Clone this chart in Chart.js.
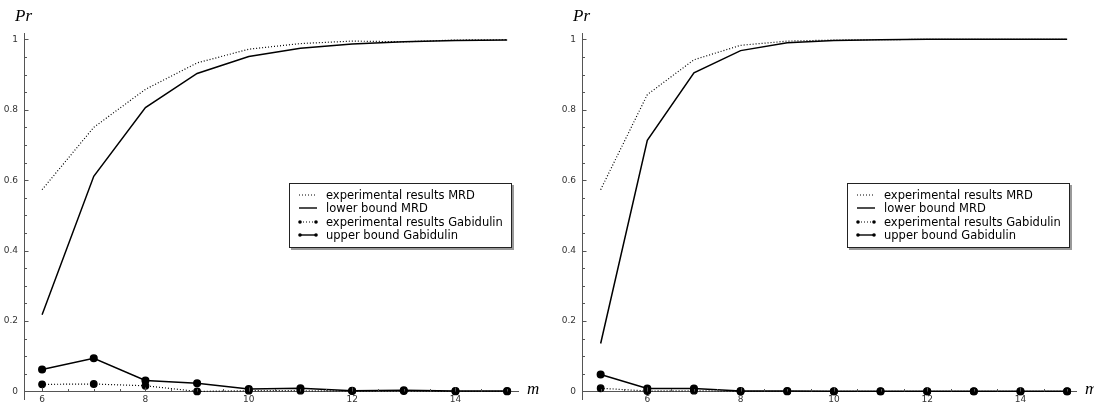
<!DOCTYPE html>
<html>
<head>
<meta charset="utf-8">
<script src="https://cdn.jsdelivr.net/npm/chart.js@4.4.0/dist/chart.umd.min.js"></script>
<style>
    html, body { margin: 0; padding: 0; background: #fff; overflow: hidden; }
    .row { display: flex; flex-wrap: nowrap; width: 1116px; }
    .panel { position: relative; width: 558px; height: 405px; flex: none; }
    .legend {
        position: absolute; left: 289px; top: 183px; width: 223px; height: 65px;
        border: 1px solid #222; background: #fff; box-shadow: 2px 2px 0 #999;
        font-family: "DejaVu Sans", sans-serif; font-size: 11.5px; color: #000;
        padding-top: 5px; box-sizing: border-box;
    }
    .legend div { height: 13.3px; line-height: 13.3px; white-space: nowrap; }
    .legend svg { width: 20px; height: 10px; margin-left: 8px; margin-right: 8px; vertical-align: -1px; }
</style>
</head>
<body>
<div class="row">
    <div class="panel">
        <canvas id="leftChart" width="558" height="405"></canvas>
        <div class="legend" id="leftLegend"></div>
    </div>
    <div class="panel">
        <canvas id="rightChart" width="558" height="405"></canvas>
        <div class="legend" id="rightLegend"></div>
    </div>
</div>
<script>
// data
const leftM = [6, 7, 8, 9, 10, 11, 12, 13, 14, 15];
const leftExpMRD = [0.573, 0.750, 0.858, 0.933, 0.972, 0.988, 0.995, 0.993, 0.998, 0.999];
const leftLowerMRD = [0.218, 0.611, 0.806, 0.903, 0.951, 0.975, 0.987, 0.993, 0.997, 0.998];
const leftExpGab = [0.020, 0.021, 0.016, 0.000, 0.002, 0.002, 0.001, 0.001, 0.000, 0.000];
const leftUpperGab = [0.062, 0.094, 0.031, 0.023, 0.007, 0.009, 0.002, 0.003, 0.001, 0.001];

const rightM = [5, 6, 7, 8, 9, 10, 11, 12, 13, 14, 15];
const rightExpMRD = [0.573, 0.843, 0.942, 0.983, 0.995, 0.998, 0.999, 1.0, 1.0, 1.0, 1.0];
const rightLowerMRD = [0.136, 0.713, 0.905, 0.968, 0.990, 0.997, 0.999, 1.0, 1.0, 1.0, 1.0];
const rightExpGab = [0.009, 0.001, 0.002, 0, 0, 0, 0, 0, 0, 0, 0];
const rightUpperGab = [0.048, 0.008, 0.008, 0.001, 0.001, 0.0005, 0.0005, 0.0005, 0.0005, 0.0005, 0.0005];

const seriesNames = ['experimental results MRD', 'lower bound MRD', 'experimental results Gabidulin', 'upper bound Gabidulin'];
const yLabels = [0, 0.2, 0.4, 0.6, 0.8, 1];
const xLabels = [6, 8, 10, 12, 14];
const yMinorStep = 0.05;
const xMinorStep = 0.5;

const axisColor = '#555';
const labelColor = '#333';

function pts(xs, ys) {
    return xs.map((m, i) => ({ x: m, y: ys[i] }));
}

function stepTicks(min, max, step) {
    const out = [];
    for (let v = Math.ceil(min / step) * step; v <= max + 1e-9; v += step) {
        out.push({ value: Math.round(v * 1000) / 1000 });
    }
    return out;
}

// no label overhang padding, keep the plot area where the layout puts it
function noPad(scale) {
    scale.paddingTop = 0;
    scale.paddingBottom = 0;
    scale.paddingLeft = 0;
    scale.paddingRight = 0;
}

// inward tick marks + axis names
const axisDecor = {
    id: 'axisDecor',
    afterDraw(chart) {
        const { ctx, chartArea, scales: { x, y } } = chart;
        const y0 = Math.round(y.getPixelForValue(0)) + 0.5;
        const left = Math.round(chartArea.left) + 0.5;
        ctx.save();
        ctx.strokeStyle = axisColor;
        ctx.lineWidth = 1;
        ctx.beginPath();
        y.ticks.forEach(t => {
            const py = Math.round(y.getPixelForValue(t.value)) + 0.5;
            const len = t.label !== '' ? 4 : 2.5;
            ctx.moveTo(left, py);
            ctx.lineTo(left + len, py);
        });
        x.ticks.forEach(t => {
            const px = Math.round(x.getPixelForValue(t.value)) + 0.5;
            const len = t.label !== '' ? 4 : 2.5;
            ctx.moveTo(px, y0);
            ctx.lineTo(px, y0 - len);
        });
        ctx.stroke();
        ctx.fillStyle = '#000';
        ctx.font = 'italic 17px "Liberation Serif", serif';
        ctx.textBaseline = 'middle';
        ctx.fillText('Pr', 15, 17);
        ctx.fillText('m', chartArea.right + 9, y0 - 2);
        ctx.restore();
    }
};

function makeChart(id, ms, expMRD, lowerMRD, expGab, upperGab, xMin, xMax) {
    new Chart(document.getElementById(id), {
        type: 'line',
        data: {
            datasets: [
                {
                    label: seriesNames[0],
                    data: pts(ms, expMRD),
                    borderColor: '#000',
                    borderWidth: 1.2,
                    borderDash: [1, 2],
                    pointRadius: 0
                },
                {
                    label: seriesNames[1],
                    data: pts(ms, lowerMRD),
                    borderColor: '#000',
                    borderWidth: 1.5,
                    pointRadius: 0
                },
                {
                    label: seriesNames[2],
                    data: pts(ms, expGab),
                    borderColor: '#000',
                    borderWidth: 1.2,
                    borderDash: [1, 2],
                    pointRadius: 3.3,
                    pointBackgroundColor: '#000',
                    pointBorderColor: '#000'
                },
                {
                    label: seriesNames[3],
                    data: pts(ms, upperGab),
                    borderColor: '#000',
                    borderWidth: 1.5,
                    pointRadius: 3.3,
                    pointBackgroundColor: '#000',
                    pointBorderColor: '#000'
                }
            ]
        },
        options: {
            responsive: false,
            animation: false,
            devicePixelRatio: 1,
            layout: { padding: { left: 0, top: 33, right: 40, bottom: 5 } },
            plugins: {
                legend: { display: false },
                tooltip: { enabled: false }
            },
            scales: {
                x: {
                    type: 'linear',
                    position: { y: 0 },
                    min: xMin,
                    max: xMax,
                    afterFit: noPad,
                    afterBuildTicks: (axis) => { axis.ticks = stepTicks(xMin, xMax, xMinorStep); },
                    grid: { display: false, drawTicks: false },
                    border: { display: true, color: axisColor, width: 1 },
                    ticks: {
                        autoSkip: false,
                        maxRotation: 0,
                        padding: 3,
                        color: labelColor,
                        font: { family: 'DejaVu Sans', size: 9 },
                        callback: (v) => xLabels.includes(v) ? String(v) : ''
                    }
                },
                y: {
                    type: 'linear',
                    min: -0.023,
                    max: 1.018,
                    afterFit: (scale) => { scale.width = 24; noPad(scale); },
                    afterBuildTicks: (axis) => { axis.ticks = stepTicks(0, 1, yMinorStep); },
                    grid: { display: false, drawTicks: false },
                    border: { display: true, color: axisColor, width: 1 },
                    ticks: {
                        autoSkip: false,
                        padding: 6,
                        color: labelColor,
                        font: { family: 'DejaVu Sans', size: 9 },
                        callback: (v) => yLabels.includes(v) ? String(v) : ''
                    }
                }
            }
        },
        plugins: [axisDecor]
    });
}

function buildLegend(id) {
    const samples = [
        '<line x1="1" y1="5" x2="19" y2="5" stroke="#000" stroke-width="1" stroke-dasharray="1 2"/>',
        '<line x1="1" y1="5" x2="19" y2="5" stroke="#000" stroke-width="1.4"/>',
        '<line x1="2" y1="5" x2="18" y2="5" stroke="#000" stroke-width="1" stroke-dasharray="1 2"/><circle cx="2" cy="5" r="1.8"/><circle cx="18" cy="5" r="1.8"/>',
        '<line x1="2" y1="5" x2="18" y2="5" stroke="#000" stroke-width="1.4"/><circle cx="2" cy="5" r="1.8"/><circle cx="18" cy="5" r="1.8"/>'
    ];
    document.getElementById(id).innerHTML = seriesNames.map((name, i) =>
        '<div><svg viewBox="0 0 20 10">' + samples[i] + '</svg>' + name + '</div>'
    ).join('');
}

makeChart('leftChart', leftM, leftExpMRD, leftLowerMRD, leftExpGab, leftUpperGab, 5.65, 15.21);
makeChart('rightChart', rightM, rightExpMRD, rightLowerMRD, rightExpGab, rightUpperGab, 4.6, 15.19);
buildLegend('leftLegend');
buildLegend('rightLegend');
</script>
</body>
</html>
